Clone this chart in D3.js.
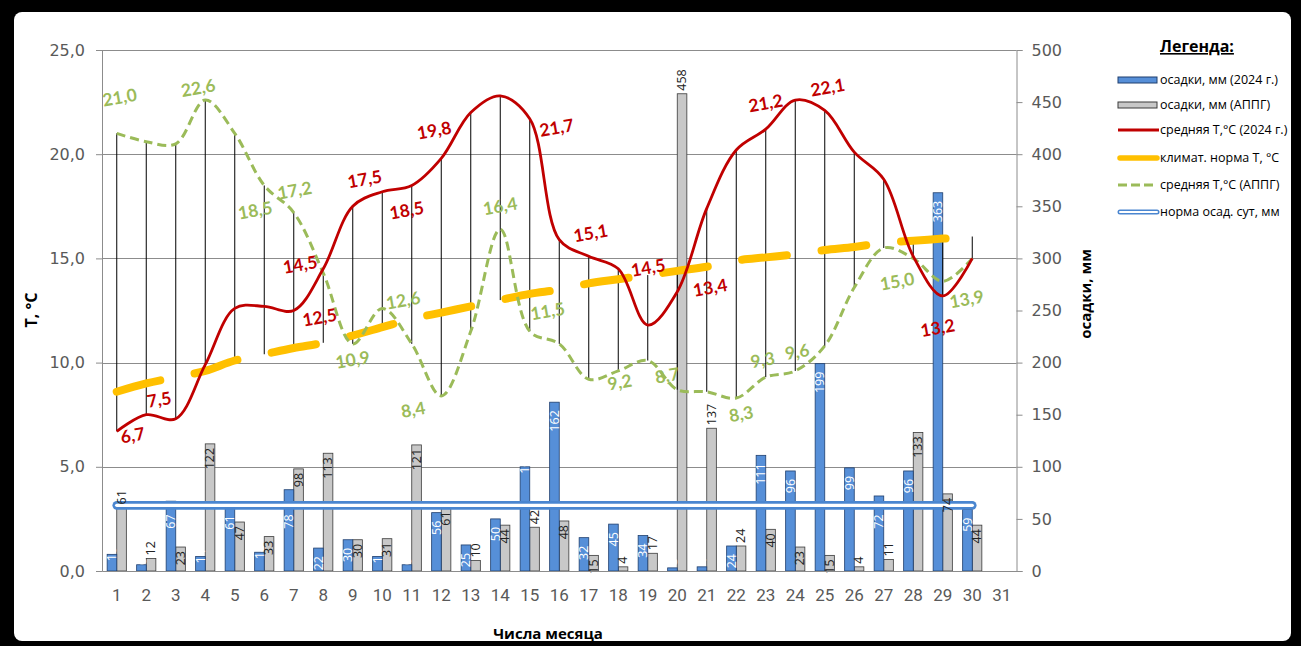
<!DOCTYPE html>
<html>
<head>
<meta charset="utf-8">
<script src="https://cdn.jsdelivr.net/npm/d3@7"></script>
<style>
  html, body { margin: 0; padding: 0; background: #000; }
  svg { display: block; }
</style>
</head>
<body>
<svg id="chart" width="1301" height="646"></svg>
<script>
// ---- data -------------------------------------------------------------
const dayLabels = ["1","2","3","4","5","6","7","8","9","10","11","12","13","14","15","16",
                   "17","18","19","20","21","22","23","24","25","26","27","28","29","30","31"];

// daily precipitation, mm
const precip2024 = [16, 6, 67, 14, 61, 18, 78, 22, 30, 14, 6, 56, 25, 50, 100, 162,
                    32, 45, 34, 3, 4, 24, 111, 96, 199, 99, 72, 96, 363, 59, null];
const precipPrev = [61, 12, 23, 122, 47, 33, 98, 113, 30, 31, 121, 61, 10, 44, 42, 48,
                    15, 4, 17, 458, 137, 24, 40, 23, 15, 4, 11, 133, 74, 44, null];
// daily precipitation norm, mm
const precipNorm = [63, 63, 63, 63, 63, 63, 63, 63, 63, 63, 63, 63, 63, 63, 63, 63,
                    63, 63, 63, 63, 63, 63, 63, 63, 63, 63, 63, 63, 63, 63, null];

// mean daily temperature, °C
const temp2024 = [6.7, 7.5, 7.3, 9.9, 12.6, 12.7, 12.5, 14.5, 17.5, 18.2, 18.5, 19.8, 22.0, 22.8, 21.7, 15.9,
                  15.1, 14.5, 11.8, 13.4, 17.4, 20.2, 21.2, 22.6, 22.1, 20.1, 18.8, 15.1, 13.2, 15.0, null];
const tempPrev = [21.0, 20.6, 20.5, 22.6, 21.0, 18.5, 17.2, 14.3, 10.9, 12.6, 10.9, 8.4, 11.5, 16.4, 11.5, 10.9,
                  9.2, 9.6, 10.1, 8.7, 8.6, 8.3, 9.3, 9.6, 10.8, 13.6, 15.5, 15.0, 13.9, 15.0, null];
const tempNorm = [8.6, 9.0, 9.3, 9.6, 10.1, 10.4, 10.7, 10.95, 11.3, 11.7, 12.1, 12.4, 12.7, 13.0, 13.3, 13.5,
                  13.8, 14.0, 14.2, 14.4, 14.6, 14.9, 15.05, 15.2, 15.4, 15.55, 15.75, 15.85, 15.95, 16.05, null];

const tempTicks = [0, 5, 10, 15, 20, 25];
const precipTicks = [0, 50, 100, 150, 200, 250, 300, 350, 400, 450, 500];

const legendItems = ["осадки, мм (2024 г.)", "осадки, мм (АППГ)", "средняя Т,°С (2024 г.)",
                     "климат. норма Т, °С", "средняя Т,°С (АППГ)", "норма осад. сут, мм"];

// days whose temperature values carry a label, with the label nudge [dx, dy]
const labels2024 = { 1: [16, 4], 2: [13, -15], 7: [26, 7], 8: [-23, -4], 9: [12, -27], 11: [-5, 25],
                     12: [-7, -28], 15: [27, 9], 17: [2, -23], 18: [30, -1], 20: [33, -4],
                     23: [0, -26], 25: [3, -23], 29: [-5, 32] };
const labelsPrev = { 1: [3, -36], 4: [-7, -12], 6: [-9, 25], 7: [1, -22], 9: [0, 16], 10: [21, -8],
                     12: [-28, 14], 14: [0, -23], 15: [18, -20], 17: [31, 3], 20: [-10, -14],
                     22: [5, 16], 23: [-3, -17], 24: [2, -19], 28: [-16, 23], 29: [24, 18] };
// bars whose value label runs upward from the bar end
const curLabelAbove = [1, 2, 4, 6, 10, 11, 15, 20, 21];
const prevLabelAbove = [1, 2, 13, 15, 18, 19, 20, 21, 22, 26, 27];

// ---- layout -----------------------------------------------------------
const svg = d3.select("#chart");
const W = 1301, H = 646;
const plotL = 102, plotR = 1016.5, plotT = 50, plotB = 571;

const fmt1 = v => v.toFixed(1).replace(".", ",");

// frame
svg.append("rect").attr("width", W).attr("height", H).attr("fill", "#000");
svg.append("rect").attr("x", 14).attr("y", 12).attr("width", 1277).attr("height", 629)
  .attr("rx", 8).attr("fill", "#fff");

const x = d3.scaleBand().domain(dayLabels).range([plotL, plotR]);
const xSub = d3.scaleBand().domain(["cur", "prev"]).range([0, x.bandwidth()]).paddingOuter(0.536);
const yT = d3.scaleLinear().domain([0, 25]).range([plotB, plotT]);
const yP = d3.scaleLinear().domain([0, 500]).range([plotB, plotT]);
const cx = d => x(d) + x.bandwidth() / 2;

// gridlines
svg.append("g").selectAll("line").data(tempTicks.filter(t => t > 0)).join("line")
  .attr("x1", plotL).attr("x2", plotR)
  .attr("y1", d => Math.round(yT(d)) + 0.5).attr("y2", d => Math.round(yT(d)) + 0.5)
  .attr("stroke", "#8c8c8c").attr("stroke-width", 1);

// ---- bars -------------------------------------------------------------
const barData = dayLabels.map((d, i) => ({ day: d, i, cur: precip2024[i], prev: precipPrev[i] }));
const gBars = svg.append("g");
gBars.selectAll("rect.prev").data(barData.filter(d => d.prev != null)).join("rect")
  .attr("x", d => x(d.day) + xSub("prev")).attr("width", xSub.bandwidth())
  .attr("y", d => yP(d.prev)).attr("height", d => plotB - yP(d.prev))
  .attr("fill", "#c8c8c8").attr("stroke", "#3a3a3a").attr("stroke-width", 0.8);
gBars.selectAll("rect.cur").data(barData.filter(d => d.cur != null)).join("rect")
  .attr("x", d => x(d.day) + xSub("cur")).attr("width", xSub.bandwidth())
  .attr("y", d => yP(d.cur)).attr("height", d => plotB - yP(d.cur))
  .attr("fill", "#568fd8").attr("stroke", "#1f3f6e").attr("stroke-width", 0.8);

// ---- precipitation norm (double line look) ------------------------------
const normPts = dayLabels.map((d, i) => [cx(d), precipNorm[i]]).filter(p => p[1] != null);
const normLine = d3.line().x(p => p[0]).y(p => yP(p[1]));
const normY = yP(precipNorm[0]);
svg.append("path").attr("d", normLine(normPts)).attr("fill", "none")
  .attr("stroke", "#4a86d0").attr("stroke-width", 8.6).attr("stroke-linecap", "round");
svg.append("path").attr("d", normLine(normPts)).attr("fill", "none")
  .attr("stroke", "#fff").attr("stroke-width", 3.4).attr("stroke-linecap", "round");

// ---- bar value labels -------------------------------------------------
const barFont = "'Open Sans', sans-serif";
const gBarLbl = svg.append("g").attr("font-family", barFont).attr("font-size", 12.5);
gBarLbl.selectAll("text.cur").data(barData.filter(d => d.cur != null)).join("text")
  .attr("transform", d => {
    const above = curLabelAbove.includes(d.i + 1);
    const top = yP(d.cur), h = plotB - top;
    let yy = above ? top + Math.min(7, h - 6) : top + 8;
    // keep inside labels clear of the norm line
    if (!above && yy < normY + 8 && yy + 18 > normY - 5) yy = normY + 9;
    return `translate(${x(d.day) + xSub("cur") + xSub.bandwidth() / 2},${yy}) rotate(-90)`;
  })
  .attr("text-anchor", d => curLabelAbove.includes(d.i + 1) ? "start" : "end")
  .attr("dy", "0.35em").attr("fill", "#fff")
  .text(d => d.cur);
gBarLbl.selectAll("text.prev").data(barData.filter(d => d.prev != null)).join("text")
  .attr("transform", d => {
    const above = prevLabelAbove.includes(d.i + 1);
    const yy = above ? yP(d.prev) - 3 : yP(d.prev) + 4;
    return `translate(${x(d.day) + xSub("prev") + xSub.bandwidth() / 2},${yy}) rotate(-90)`;
  })
  .attr("text-anchor", d => prevLabelAbove.includes(d.i + 1) ? "start" : "end")
  .attr("dy", "0.35em").attr("fill", "#222")
  .text(d => d.prev);

// ---- high-low lines between temperature series ------------------------
const hl = dayLabels.map((d, i) => {
  const vals = [temp2024[i], tempPrev[i], tempNorm[i]].filter(v => v != null);
  return vals.length ? { day: d, hi: d3.max(vals), lo: d3.min(vals) } : null;
}).filter(Boolean);
svg.append("g").selectAll("line").data(hl).join("line")
  .attr("x1", d => cx(d.day)).attr("x2", d => cx(d.day))
  .attr("y1", d => yT(d.hi)).attr("y2", d => yT(d.lo))
  .attr("stroke", "#000").attr("stroke-width", 1);

// ---- temperature lines ------------------------------------------------
const tLine = d3.line().defined(p => p[1] != null).x(p => p[0]).y(p => yT(p[1]))
  .curve(d3.curveCatmullRom.alpha(0.5));
const pts = arr => dayLabels.map((d, i) => [cx(d), arr[i]]);

svg.append("path").attr("d", tLine(pts(tempNorm))).attr("fill", "none")
  .attr("stroke", "#ffc000").attr("stroke-width", 8).attr("stroke-linecap", "round")
  .attr("stroke-dasharray", "45,35");
svg.append("path").attr("d", tLine(pts(tempPrev))).attr("fill", "none")
  .attr("stroke", "#9bbb59").attr("stroke-width", 3).attr("stroke-dasharray", "9,5");
svg.append("path").attr("d", tLine(pts(temp2024))).attr("fill", "none")
  .attr("stroke", "#c00000").attr("stroke-width", 2.8);

// ---- temperature labels -----------------------------------------------
const lblFont = "Lato, 'Open Sans', sans-serif";
function tempLabels(arr, nudges, color) {
  const items = Object.keys(nudges).map(k => ({ i: +k - 1, n: nudges[k] }));
  svg.append("g").selectAll("text").data(items).join("text")
    .attr("transform", d => `translate(${cx(dayLabels[d.i]) + d.n[0]},${yT(arr[d.i]) + d.n[1]}) rotate(-10)`)
    .attr("text-anchor", "middle").attr("dy", "0.35em")
    .attr("font-family", lblFont).attr("font-weight", 700).attr("font-size", 17.5)
    .attr("fill", color).text(d => fmt1(arr[d.i]));
}
tempLabels(tempPrev, labelsPrev, "#9bbb59");
tempLabels(temp2024, labels2024, "#c00000");

// ---- axes -------------------------------------------------------------
const axisColor = "#8c8c8c", tickText = "#595959";
const axL = svg.append("g").attr("transform", `translate(${plotL},0)`)
  .call(d3.axisLeft(yT).tickValues(tempTicks).tickFormat(fmt1).tickSize(6).tickPadding(11));
const axR = svg.append("g").attr("transform", `translate(${plotR},0)`)
  .call(d3.axisRight(yP).tickValues(precipTicks).tickSize(6).tickPadding(9));
const axB = svg.append("g").attr("transform", `translate(0,${plotB})`)
  .call(d3.axisBottom(x).tickSize(0).tickPadding(18));
[axL, axR].forEach(a => a.selectAll("text").attr("font-family", "'DejaVu Sans', sans-serif")
  .attr("font-size", 16).attr("fill", tickText));
axB.selectAll("text").attr("font-family", "Roboto, sans-serif").attr("font-size", 17).attr("fill", tickText);
[axL, axR, axB].forEach(a => {
  a.selectAll(".domain, .tick line").attr("stroke", axisColor);
});

// axis titles
svg.append("text").attr("transform", "translate(37,310) rotate(-90)").attr("text-anchor", "middle")
  .attr("font-family", "'Open Sans', sans-serif").attr("font-weight", 700).attr("font-size", 16)
  .attr("fill", "#000").text("Т, °С");
svg.append("text").attr("transform", "translate(1091,294) rotate(-90)").attr("text-anchor", "middle")
  .attr("font-family", "'Open Sans', sans-serif").attr("font-weight", 700).attr("font-size", 15)
  .attr("fill", "#000").text("осадки, мм");
svg.append("text").attr("x", 548).attr("y", 639).attr("text-anchor", "middle")
  .attr("font-family", "'Open Sans', sans-serif").attr("font-weight", 700).attr("font-size", 15)
  .attr("fill", "#000").text("Числа месяца");

// ---- legend -----------------------------------------------------------
const lg = svg.append("g").attr("font-family", "'Open Sans', sans-serif");
lg.append("text").attr("x", 1160).attr("y", 52).attr("font-size", 16).attr("font-weight", 700)
  .attr("text-decoration", "underline").attr("fill", "#000").text("Легенда:");
const rowY = [80, 105, 130, 158, 185, 212];
const sx0 = 1118, sx1 = 1157;
legendItems.forEach((t, k) => {
  const y = rowY[k];
  const g = lg.append("g");
  if (k === 0 || k === 1) {
    g.append("rect").attr("x", sx0).attr("y", y - 3).attr("width", sx1 - sx0).attr("height", 6)
      .attr("fill", k === 0 ? "#568fd8" : "#c8c8c8").attr("stroke", k === 0 ? "#1f3f6e" : "#3a3a3a")
      .attr("stroke-width", 1);
  } else if (k === 2) {
    g.append("line").attr("x1", sx0).attr("x2", sx1 + 2).attr("y1", y).attr("y2", y)
      .attr("stroke", "#c00000").attr("stroke-width", 3);
  } else if (k === 3) {
    g.append("line").attr("x1", sx0 + 2).attr("x2", sx1).attr("y1", y).attr("y2", y)
      .attr("stroke", "#ffc000").attr("stroke-width", 5.5).attr("stroke-linecap", "round");
  } else if (k === 4) {
    g.append("line").attr("x1", sx0).attr("x2", sx1 - 4).attr("y1", y).attr("y2", y)
      .attr("stroke", "#9bbb59").attr("stroke-width", 3).attr("stroke-dasharray", "9,4");
  } else {
    g.append("line").attr("x1", sx0 + 2).attr("x2", sx1).attr("y1", y).attr("y2", y)
      .attr("stroke", "#4a86d0").attr("stroke-width", 5).attr("stroke-linecap", "round");
    g.append("line").attr("x1", sx0 + 2).attr("x2", sx1).attr("y1", y).attr("y2", y)
      .attr("stroke", "#fff").attr("stroke-width", 2).attr("stroke-linecap", "round");
  }
  g.append("text").attr("x", 1160).attr("y", y).attr("dy", "0.35em").attr("font-size", 12.5)
    .attr("fill", "#000").text(t);
});
</script>
</body>
</html>
